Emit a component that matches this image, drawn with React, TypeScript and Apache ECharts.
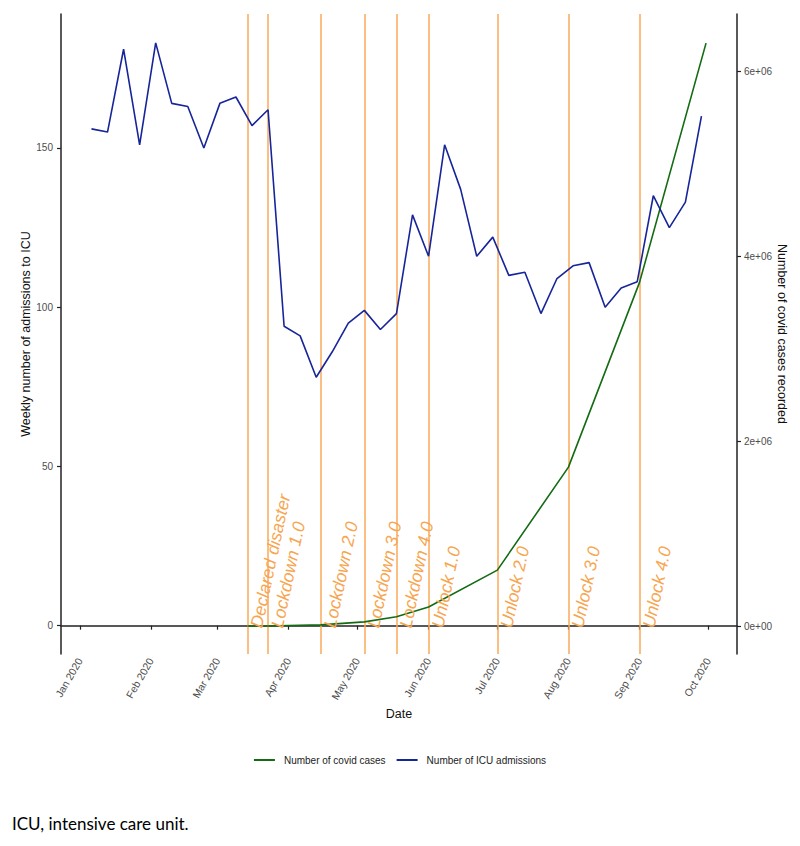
import React, { useEffect, useRef } from "react";
import * as echarts from "echarts";

const icuDates = [
  "2020-01-06", "2020-01-13", "2020-01-20", "2020-01-27",
  "2020-02-03", "2020-02-10", "2020-02-17", "2020-02-24",
  "2020-03-02", "2020-03-09", "2020-03-16", "2020-03-23", "2020-03-30",
  "2020-04-06", "2020-04-13", "2020-04-20", "2020-04-27",
  "2020-05-04", "2020-05-11", "2020-05-18", "2020-05-25",
  "2020-06-01", "2020-06-08", "2020-06-15", "2020-06-22", "2020-06-29",
  "2020-07-06", "2020-07-13", "2020-07-20", "2020-07-27",
  "2020-08-03", "2020-08-10", "2020-08-17", "2020-08-24", "2020-08-31",
  "2020-09-07", "2020-09-14", "2020-09-21", "2020-09-28",
];
const icuValues = [
  156, 155, 181, 151,
  183, 164, 163, 150,
  164, 166, 157, 162, 94,
  91, 78, 86, 95,
  99, 93, 98, 129,
  116, 151, 137, 116, 122,
  110, 111, 98, 109,
  113, 114, 100, 106, 108,
  135, 125, 133, 160,
];

const caseDates = [
  "2020-03-14", "2020-03-23", "2020-04-15", "2020-05-04", "2020-05-18",
  "2020-06-01", "2020-07-01", "2020-08-01", "2020-09-01", "2020-09-30",
];
const caseValues = [
  100, 400, 12000, 45000, 100000,
  205000, 605000, 1720000, 3720000, 6310000,
];

const eventDates = [
  "2020-03-14", "2020-03-23", "2020-04-15", "2020-05-04", "2020-05-18",
  "2020-06-01", "2020-07-01", "2020-08-01", "2020-09-01",
];
const eventLabels = [
  "Declared disaster", "Lockdown 1.0", "Lockdown 2.0", "Lockdown 3.0", "Lockdown 4.0",
  "Unlock 1.0", "Unlock 2.0", "Unlock 3.0", "Unlock 4.0",
];

const monthTicks = [
  "2020-01-01", "2020-02-01", "2020-03-01", "2020-04-01", "2020-05-01",
  "2020-06-01", "2020-07-01", "2020-08-01", "2020-09-01", "2020-10-01",
];
const monthNames = ["Jan", "Feb", "Mar", "Apr", "May", "Jun", "Jul", "Aug", "Sep", "Oct", "Nov", "Dec"];

const leftTicks = [0, 50, 100, 150];
const rightTicks = [0, 2000000, 4000000, 6000000];

const ts = (s: string) => {
  const [y, m, d] = s.split("-").map(Number);
  return new Date(y, m - 1, d).getTime();
};

const FONT = "'Liberation Sans', Arial, Helvetica, sans-serif";
const ORANGE = "#FBAA5A";
const ORANGE_TXT = "#F7A54F";
const BLUE = "#17259A";
const GREEN = "#136B13";
const AXIS = "#222222";
const TICKTXT = "#4D4D4D";

export default function App() {
  const ref = useRef<HTMLDivElement>(null);

  useEffect(() => {
    if (!ref.current) return;
    const chart = echarts.init(ref.current, undefined, { renderer: "svg" });
    const DAY = 86400000;
    const xMin = ts("2020-01-01") - 8.29 * DAY;
    const xMax = ts("2020-01-01") + 286.5 * DAY;
    const xTickVals = monthTicks.map(ts);

    const option: any = {
      animation: false,
      backgroundColor: "#ffffff",
      textStyle: { fontFamily: FONT },
      grid: { left: 61, right: 63, top: 14, bottom: 192, containLabel: false },
      legend: {
        data: ["Number of covid cases", "Number of ICU admissions"],
        left: "center",
        top: 750,
        icon: "rect",
        itemWidth: 21,
        itemHeight: 2,
        itemGap: 11,
        textStyle: { fontSize: 10, color: "#222", fontFamily: FONT, padding: [0, 0, 0, 4] },
      },
      xAxis: {
        type: "value",
        min: xMin,
        max: xMax,
        name: "Date",
        nameLocation: "middle",
        nameGap: 53,
        nameMoveOverlap: false,
        nameTextStyle: { fontSize: 12.5, color: "#111", fontFamily: FONT },
        axisLine: { show: true, lineStyle: { color: AXIS, width: 1.5 } },
        axisTick: {
          show: true,
          length: 4,
          customValues: xTickVals,
          lineStyle: { color: AXIS, width: 1.2 },
        },
        axisLabel: {
          customValues: xTickVals,
          rotate: 60,
          fontSize: 10.5,
          color: TICKTXT,
          margin: 5,
          fontFamily: FONT,
          formatter: (v: number) => {
            const d = new Date(v);
            return `${monthNames[d.getMonth()]} ${d.getFullYear()}`;
          },
        },
        splitLine: { show: false },
      },
      yAxis: [
        {
          type: "value",
          position: "left",
          min: -8.89,
          max: 192.06,
          name: "Weekly number of admissions to ICU",
          nameLocation: "middle",
          nameGap: 29,
          nameMoveOverlap: false,
          nameTextStyle: { fontSize: 12.5, color: "#111", fontFamily: FONT },
          axisLine: { show: true, lineStyle: { color: AXIS, width: 1.5 } },
          axisTick: { show: true, length: 4, customValues: leftTicks, lineStyle: { color: AXIS, width: 1.2 } },
          axisLabel: { customValues: leftTicks, fontSize: 10, color: TICKTXT, margin: 8, fontFamily: FONT },
          splitLine: { show: false },
        },
        {
          type: "value",
          position: "right",
          min: -303000,
          max: 6625000,
          name: "Number of covid cases recorded",
          nameLocation: "middle",
          nameRotate: -90,
          nameGap: 38,
          nameMoveOverlap: false,
          nameTextStyle: { fontSize: 12.5, color: "#111", fontFamily: FONT },
          axisLine: { show: true, lineStyle: { color: AXIS, width: 1.5 } },
          axisTick: { show: true, length: 4, customValues: rightTicks, lineStyle: { color: AXIS, width: 1.2 } },
          axisLabel: {
            customValues: rightTicks,
            fontSize: 10,
            color: TICKTXT,
            margin: 7,
            fontFamily: FONT,
            formatter: (v: number) => (v === 0 ? "0e+00" : `${Math.round(v / 1e6)}e+06`),
          },
          splitLine: { show: false },
        },
      ],
      series: [
        {
          name: "Number of covid cases",
          type: "line",
          yAxisIndex: 1,
          data: caseDates.map((d, i) => [ts(d), caseValues[i]]),
          showSymbol: false,
          symbol: "none",
          lineStyle: { color: GREEN, width: 1.6 },
          itemStyle: { color: GREEN },
          z: 3,
        },
        {
          name: "Number of ICU admissions",
          type: "line",
          yAxisIndex: 0,
          data: icuDates.map((d, i) => [ts(d), icuValues[i]]),
          showSymbol: false,
          symbol: "none",
          lineStyle: { color: BLUE, width: 1.6 },
          itemStyle: { color: BLUE },
          z: 3,
          markLine: {
            silent: true,
            symbol: ["none", "none"],
            label: { show: false },
            lineStyle: { color: ORANGE, width: 1.5, type: "solid" },
            data: eventDates.map((d) => ({ xAxis: ts(d) })),
            z: 2,
          },
        },
        {
          name: "events",
          type: "scatter",
          yAxisIndex: 0,
          symbolSize: 1,
          itemStyle: { color: "rgba(0,0,0,0)" },
          silent: true,
          z: 4,
          data: eventDates.map((d, i) => ({ value: [ts(d), 0], name: eventLabels[i] })),
          label: {
            show: true,
            position: "inside",
            formatter: "{b}",
            rotate: 78,
            align: "left",
            verticalAlign: "top",
            fontSize: 17.5,
            fontStyle: "italic",
            color: ORANGE_TXT,
            opacity: 1,
            fontFamily: FONT,
          },
        },
      ],
      graphic: [
        {
          type: "text",
          left: 12,
          top: 815,
          style: {
            text: "ICU, intensive care unit.",
            fontSize: 17,
            fontFamily: "Lato, 'Open Sans', sans-serif",
            fill: "#000",
          },
        },
      ],
    };
    chart.setOption(option);
    return () => chart.dispose();
  }, []);

  return (
    <div
      ref={ref}
      style={{ position: "fixed", left: 0, top: 0, width: 800, height: 846, background: "#fff" }}
    />
  );
}
